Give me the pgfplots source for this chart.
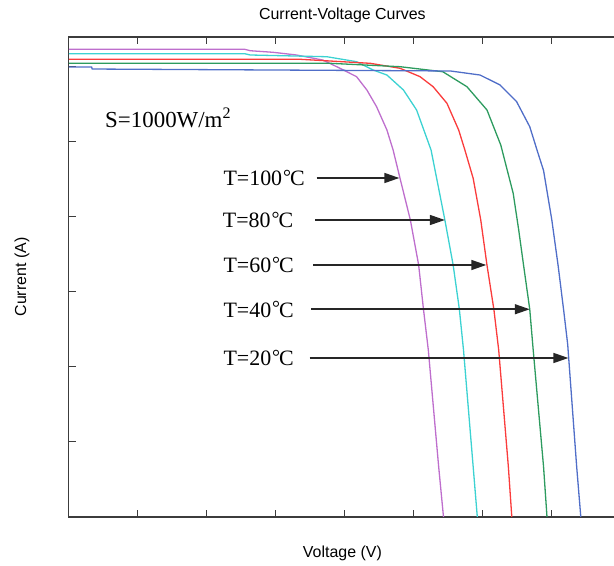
\documentclass[border=0pt]{standalone}
\usepackage{fontspec}
\setmainfont{Liberation Serif}
\setsansfont{Liberation Sans}
\usepackage{pgfplots}
\pgfplotsset{compat=1.18}
\usetikzlibrary{arrows.meta}

\definecolor{cmag}{RGB}{190,110,205}
\definecolor{ccya}{RGB}{60,210,210}
\definecolor{cred}{RGB}{250,60,60}
\definecolor{cgre}{RGB}{45,155,95}
\definecolor{cblu}{RGB}{80,110,200}
\definecolor{axgray}{RGB}{60,60,60}

% raised degree followed by a serif C, like the reference glyph
\newcommand{\degc}{\kern1pt\raisebox{0.12em}{\fontsize{20}{20}\selectfont °}\kern-1pt C}

\begin{document}
\begin{tikzpicture}
\begin{axis}[
    at={(0,0)}, anchor=south west,
    scale only axis,
    width=547.2bp, height=480bp,
    xmin=0, xmax=7.93,
    ymin=0, ymax=6.4,
    xtick={1,...,7}, ytick={1,...,6},
    xticklabels={}, yticklabels={},
    ytick pos=left,
    tick align=inside,
    major tick length=7bp,
    clip mode=individual,
    axis line style={draw=axgray, line width=1.2bp},
    tick style={draw=axgray, line width=1bp},
    every axis plot/.append style={line width=1.3bp},
]
% T=100
\addplot[cmag] coordinates {
    (0,6.236)(2.55,6.236)(2.63,6.217)(2.96,6.196)(3.30,6.160)(3.68,6.093)(3.93,5.983)(4.17,5.871)(4.32,5.693)(4.46,5.471)(4.61,5.160)(4.70,4.893)(4.80,4.516)(4.95,3.960)(5.07,3.360)(5.14,2.769)(5.21,2.227)(5.36,0.671)(5.43,0)
};
% T=80
\addplot[ccya] coordinates {
    (0,6.177)(2.55,6.177)(2.63,6.16)(3.74,6.137)(4.17,6.071)(4.41,5.96)(4.61,5.893)(4.85,5.693)(5.04,5.427)(5.25,4.893)(5.45,3.96)(5.57,3.36)(5.66,2.769)(5.72,2.227)(5.86,0.671)(5.92,0)
};
% T=60
\addplot[cred] coordinates {
    (0,6.103)(3.35,6.103)(4.37,6.049)(4.80,5.983)(5.09,5.871)(5.28,5.737)(5.48,5.516)(5.65,5.16)(5.74,4.893)(5.86,4.516)(5.97,3.96)(6.06,3.36)(6.16,2.769)(6.23,2.227)(6.37,0.671)(6.42,0)
};
% T=40
\addplot[cgre] coordinates {
    (0,6.049)(3.79,6.049)(4.80,6.004)(5.42,5.937)(5.77,5.737)(6.06,5.427)(6.26,4.96)(6.44,4.316)(6.52,3.827)(6.59,3.36)(6.68,2.769)(6.73,2.227)(6.88,0.671)(6.93,0)
};
% T=20
\addplot[cblu] coordinates {
    (0,6.0)(0.33,6.0)(0.34,5.973)(5.53,5.947)(5.96,5.893)(6.25,5.76)(6.49,5.537)(6.68,5.204)(6.80,4.85)(6.88,4.62)(7.00,3.96)(7.09,3.36)(7.17,2.769)(7.23,2.30)(7.36,0.671)(7.42,0)
};

\tikzset{lab/.style={anchor=west, inner sep=0pt, font=\fontsize{22}{26}\selectfont}}
\tikzset{arr/.style={-{Triangle[length=15bp,width=10bp]}, line width=1.5bp, black!85}}

\node[anchor=west, inner sep=0pt, font=\fontsize{23}{27}\selectfont] at (axis cs:0.525,5.32) {S=1000W/m\textsuperscript{2}};

\node[lab] at (axis cs:2.24,4.52) {T=100\degc};
\node[lab] at (axis cs:2.23,3.96) {T=80\degc};
\node[lab] at (axis cs:2.24,3.36) {T=60\degc};
\node[lab] at (axis cs:2.24,2.77) {T=40\degc};
\node[lab] at (axis cs:2.24,2.12) {T=20\degc};

\draw[arr] (axis cs:3.59,4.52) -- (axis cs:4.79,4.52);
\draw[arr] (axis cs:3.57,3.96) -- (axis cs:5.45,3.96);
\draw[arr] (axis cs:3.54,3.36) -- (axis cs:6.05,3.36);
\draw[arr] (axis cs:3.51,2.77) -- (axis cs:6.68,2.77);
\draw[arr] (axis cs:3.49,2.12) -- (axis cs:7.24,2.12);

\node[font=\sffamily\fontsize{16}{19}\selectfont] at ([yshift=22bp]rel axis cs:0.5,1) {Current-Voltage Curves};
\node[font=\sffamily\fontsize{16}{19}\selectfont] at ([yshift=-36bp]rel axis cs:0.5,0) {Voltage (V)};
\node[font=\sffamily\fontsize{16}{19}\selectfont, rotate=90] at ([xshift=-46.8bp]rel axis cs:0,0.5) {Current (A)};
\end{axis}
\pgfresetboundingbox
\path (-68.8bp,-49bp) rectangle (545.2bp,517bp);
\end{tikzpicture}
\end{document}
